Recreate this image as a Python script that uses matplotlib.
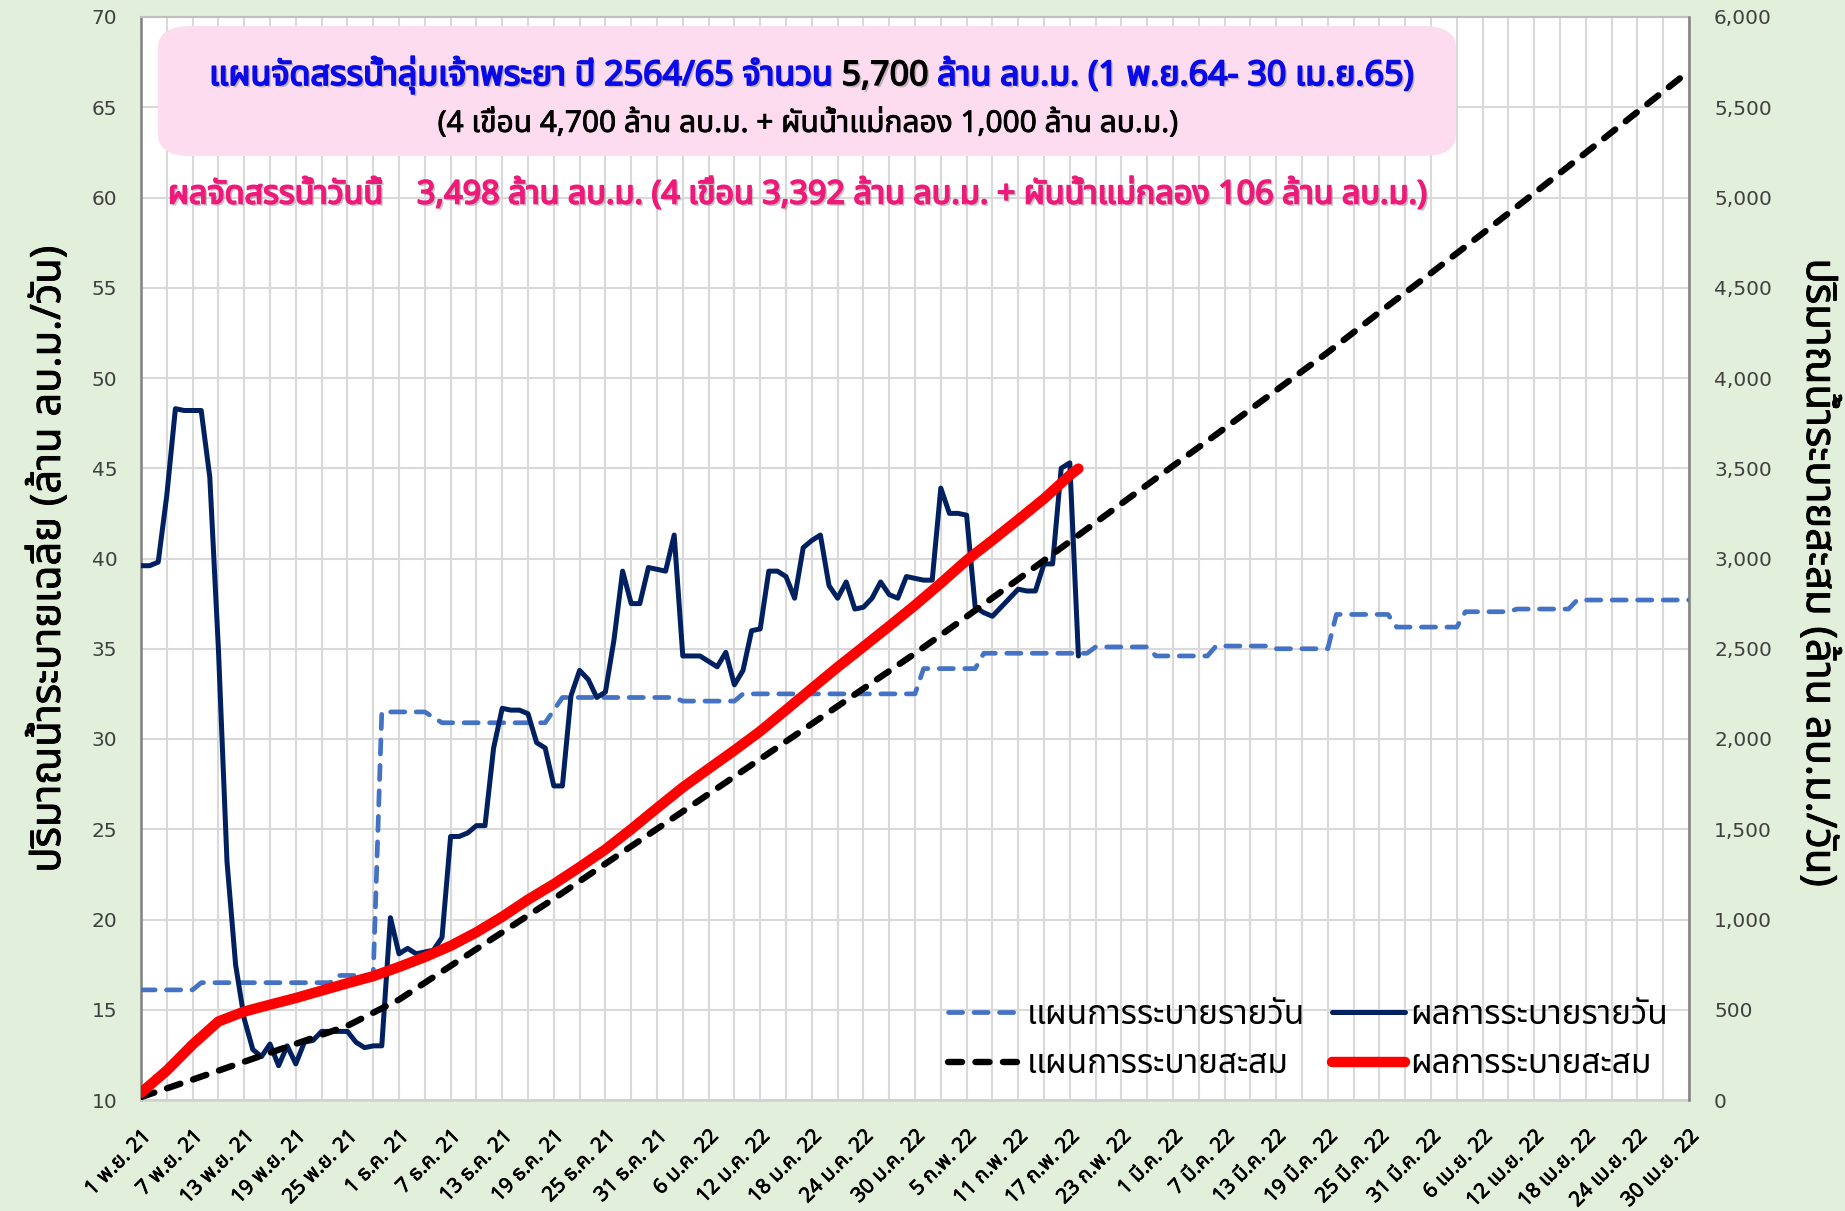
import numpy as np
import matplotlib
matplotlib.use("Agg")
import matplotlib.pyplot as plt
from matplotlib import font_manager
from matplotlib import patheffects as pe
from matplotlib.ft2font import FT2Font
from matplotlib.lines import Line2D
from matplotlib.patches import FancyBboxPatch
from matplotlib.offsetbox import TextArea, HPacker, AnnotationBbox
from matplotlib.ticker import FuncFormatter, FixedLocator


# ---------------------------------------------------------------- fonts
def pick_thai_family():
    preferred = ["Noto Sans Thai", "Noto Sans Thai UI", "Sarabun", "Kanit", "Prompt",
                 "Loma", "Waree", "Garuda", "Tlwg Typo", "Umpush", "Norasi", "Kinnari"]
    found = {}
    for entry in font_manager.fontManager.ttflist:
        try:
            cmap = FT2Font(entry.fname).get_charmap()
        except Exception:
            continue
        if 0x0E01 in cmap and 0x0E19 in cmap and 0x0E49 in cmap:
            found.setdefault(entry.name, entry.fname)
    for name in preferred:
        if name in found:
            return name
    return sorted(found)[0] if found else None


THAI = pick_thai_family()
FAMILY = [THAI, "DejaVu Sans"] if THAI else ["DejaVu Sans"]
plt.rcParams["font.family"] = FAMILY

# ---------------------------------------------------------------- data
# day index 0 = 1 Nov 2021 ... 180 = 30 Apr 2022
tick_days = list(range(0, 181, 6))
tick_labels = [
    "1 พ.ย. 21", "7 พ.ย. 21", "13 พ.ย. 21", "19 พ.ย. 21", "25 พ.ย. 21",
    "1 ธ.ค. 21", "7 ธ.ค. 21", "13 ธ.ค. 21", "19 ธ.ค. 21", "25 ธ.ค. 21", "31 ธ.ค. 21",
    "6 ม.ค. 22", "12 ม.ค. 22", "18 ม.ค. 22", "24 ม.ค. 22", "30 ม.ค. 22",
    "5 ก.พ. 22", "11 ก.พ. 22", "17 ก.พ. 22", "23 ก.พ. 22",
    "1 มี.ค. 22", "7 มี.ค. 22", "13 มี.ค. 22", "19 มี.ค. 22", "25 มี.ค. 22", "31 มี.ค. 22",
    "6 เม.ย. 22", "12 เม.ย. 22", "18 เม.ย. 22", "24 เม.ย. 22", "30 เม.ย. 22",
]

# planned daily release (million m3/day): level held from each start day
plan_daily_start = [0, 7, 23, 28, 34, 35, 48, 49, 63, 70, 91, 98,
                    111, 118, 125, 132, 139, 146, 154, 160, 167]
plan_daily_level = [16.1, 16.5, 16.9, 31.5, 31.2, 30.9, 31.6, 32.3, 32.1, 32.5, 33.9, 34.75,
                    35.1, 34.6, 35.15, 35.0, 36.9, 36.2, 37.05, 37.2, 37.7]

# actual daily release (million m3/day), 1 Nov 2021 - 18 Feb 2022
actual_daily = [
    39.6, 39.6, 39.8, 43.5, 48.3, 48.2, 48.2, 48.2, 44.5, 35.0,
    23.2, 17.5, 14.5, 12.8, 12.4, 13.1, 11.9, 13.0, 12.0, 13.2,
    13.3, 13.8, 13.8, 13.8, 13.8, 13.2, 12.9, 13.0, 13.0, 20.1,
    18.1, 18.4, 18.1, 18.2, 18.3, 19.0, 24.6, 24.6, 24.8, 25.2,
    25.2, 29.5, 31.7, 31.6, 31.6, 31.4, 29.8, 29.5, 27.4, 27.4,
    32.4, 33.8, 33.3, 32.3, 32.6, 35.5, 39.3, 37.5, 37.5, 39.5,
    39.4, 39.3, 41.3, 34.6, 34.6, 34.6, 34.3, 34.0, 34.8, 33.0,
    33.8, 36.0, 36.1, 39.3, 39.3, 39.0, 37.8, 40.6, 41.0, 41.3,
    38.5, 37.8, 38.7, 37.2, 37.3, 37.8, 38.7, 38.0, 37.8, 39.0,
    38.9, 38.8, 38.8, 43.9, 42.5, 42.5, 42.4, 37.3, 37.0, 36.8,
    37.3, 37.8, 38.3, 38.2, 38.2, 39.7, 39.7, 45.0, 45.3, 34.6,
]

# planned cumulative release (million m3)
plan_cum_days = list(range(0, 181, 6))
plan_cum = [16, 113, 212, 311, 411, 556, 743, 929, 1115, 1309, 1502, 1695, 1889, 2084,
            2279, 2474, 2678, 2885, 3094, 3304, 3513, 3721, 3932, 4142, 4364, 4581,
            4801, 5024, 5248, 5474, 5700]

# actual cumulative release (million m3)
actual_cum_days = list(range(0, 109, 3)) + [109]
actual_cum = [40, 163, 307, 435, 490, 528, 565, 606, 647, 686, 737, 792, 854, 929,
              1015, 1110, 1196, 1290, 1388, 1500, 1617, 1732, 1835, 1937, 2043, 2161,
              2280, 2398, 2511, 2625, 2741, 2863, 2990, 3101, 3215, 3331, 3461, 3498]

legend_labels = ["แผนการระบายรายวัน", "แผนการระบายสะสม", "ผลการระบายรายวัน", "ผลการระบายสะสม"]

# ---------------------------------------------------------------- styles
BG = "#E2EFDA"
GRID = "#D9D9D9"
C_PLAN_D = "#4472C4"
C_ACT_D = "#002060"
C_PLAN_C = "#000000"
C_ACT_C = "#FF0000"


def heavy(color, width=1.3, shadow=True):
    """Thicken glyphs with an outline of their own colour, plus a soft drop shadow."""
    fx = []
    if shadow:
        fx.append(pe.SimplePatchShadow(offset=(1.6, -1.6), shadow_rgbFace="#7F7F7F", alpha=0.45))
    fx += [pe.Stroke(linewidth=width, foreground=color), pe.Normal()]
    return fx


days_all = np.arange(0, 181)
plan_daily = np.array(plan_daily_level)[np.searchsorted(plan_daily_start, days_all, side="right") - 1]
actual_days = np.arange(len(actual_daily))

fig = plt.figure(figsize=(18.45, 12.11), dpi=100, facecolor=BG)
ax = fig.add_axes([141 / 1845, 1 - 1100 / 1211, 1548 / 1845, 1083 / 1211])
ax.set_facecolor("white")
ax2 = ax.twinx()

ax.set_xlim(0, 180)
ax.set_ylim(10, 70)
ax2.set_ylim(0, 6000)

# grid
ax.set_yticks(np.arange(10, 71, 5))
ax.xaxis.set_major_locator(FixedLocator(tick_days))
ax.xaxis.set_minor_locator(FixedLocator(list(range(0, 181, 3))))
ax.grid(which="both", axis="x", color=GRID, lw=1.5)
ax.grid(which="major", axis="y", color=GRID, lw=1.5)
ax.set_axisbelow(True)

# daily series (left axis)
ax.plot(days_all, plan_daily, color=C_PLAN_D, lw=3.4,
        dashes=(3.0, 2.4), dash_capstyle="round", zorder=3)
ax.plot(actual_days, actual_daily, color=C_ACT_D, lw=3.6,
        solid_joinstyle="round", solid_capstyle="round", zorder=4)

# cumulative series (right axis)
ax2.plot(plan_cum_days, plan_cum, color=C_PLAN_C, lw=4.6,
         dashes=(2.2, 2.1), dash_capstyle="round", zorder=3)
ax2.plot(actual_cum_days, actual_cum, color=C_ACT_C, lw=7.5,
         solid_joinstyle="round", solid_capstyle="round", zorder=4)

# ticks
ax.set_xticks(tick_days)
ax.set_xticklabels(tick_labels, rotation=45, ha="right", va="top",
                   rotation_mode="anchor", fontsize=14.8, color="#000000")
for t in ax.get_xticklabels():
    t.set_path_effects(heavy("#000000", 0.5, shadow=False))
ax.tick_params(axis="x", which="both", length=0, pad=19)
ax.tick_params(axis="y", length=0, pad=17, labelsize=14.5, labelcolor="#404040")
for t in ax.get_yticklabels():
    t.set_fontfamily("DejaVu Sans")
ax2.set_yticks(np.arange(0, 6001, 500))
ax2.yaxis.set_major_formatter(FuncFormatter(lambda v, p: f"{int(v):,}"))
ax2.tick_params(axis="y", length=0, pad=18, labelsize=14.5, labelcolor="#404040")
for t in ax2.get_yticklabels():
    t.set_fontfamily("DejaVu Sans")

# frame
for side in ["top", "bottom", "right", "left"]:
    ax2.spines[side].set_visible(False)
ax.spines["right"].set_visible(False)
ax.spines["left"].set_color("#808080")
ax.spines["left"].set_linewidth(1.8)
ax.spines["top"].set_color("#BFBFBF")
ax.spines["top"].set_linewidth(1.5)
ax.spines["bottom"].set_color("#D0D0D0")
ax.spines["bottom"].set_linewidth(1.8)
ax2.spines["right"].set_visible(True)
ax2.spines["right"].set_color("#808080")
ax2.spines["right"].set_linewidth(1.8)

# axis titles
fig.text(49 / 1845, 1 - 559 / 1211, "ปริมาณน้ำระบายเฉลี่ย (ล้าน ลบ.ม./วัน)",
         rotation=90, ha="center", va="center", fontsize=30, color="#000000",
         path_effects=heavy("#000000", 0.6, shadow=False))
fig.text(1818 / 1845, 1 - 573 / 1211, "ปริมาณน้ำระบายสะสม (ล้าน ลบ.ม./วัน)",
         rotation=270, ha="center", va="center", fontsize=30, color="#000000",
         path_effects=heavy("#000000", 0.6, shadow=False))

# legend
handles = [
    Line2D([], [], color=C_PLAN_D, lw=3.4, dashes=(3.0, 2.4), dash_capstyle="round"),
    Line2D([], [], color=C_PLAN_C, lw=4.6, dashes=(2.2, 2.1), dash_capstyle="round"),
    Line2D([], [], color=C_ACT_D, lw=3.6, solid_capstyle="round"),
    Line2D([], [], color=C_ACT_C, lw=7.5, solid_capstyle="round"),
]
ax2.legend(handles, legend_labels, ncol=2, frameon=False, fontsize=24,
           loc="center", bbox_to_anchor=(1308 / 1845, 1 - 1040 / 1211),
           bbox_transform=fig.transFigure, handlelength=2.2, handletextpad=0.15,
           columnspacing=0.8, labelspacing=0.5)

# header box
box = FancyBboxPatch((158 / 1845, 1 - 156 / 1211), (1456 - 158) / 1845, 130 / 1211,
                     boxstyle="round,pad=0,rounding_size=0.018", transform=fig.transFigure,
                     facecolor="#FCDCEE", edgecolor="none", zorder=5)
fig.patches.append(box)

blue = "#0A0AE6"
title_parts = HPacker(children=[
    TextArea("แผนจัดสรรน้ำลุ่มเจ้าพระยา ปี 2564/65 จำนวน ",
             textprops=dict(color=blue, fontsize=24.5, family=FAMILY,
                            path_effects=heavy(blue))),
    TextArea("5,700", textprops=dict(color="black", fontsize=24.5, family=FAMILY,
                                     path_effects=heavy("black", 1.0))),
    TextArea(" ล้าน ลบ.ม. (1 พ.ย.64- 30 เม.ย.65)",
             textprops=dict(color=blue, fontsize=24.5, family=FAMILY,
                            path_effects=heavy(blue))),
], sep=0, pad=0, align="baseline")
ab = AnnotationBbox(title_parts, (812 / 1845, 1 - 75 / 1211), xycoords="figure fraction",
                    box_alignment=(0.5, 0.5), frameon=False, zorder=6)
fig.add_artist(ab)

fig.text(808 / 1845, 1 - 124 / 1211,
         "(4 เขื่อน 4,700 ล้าน ลบ.ม. + ผันน้ำแม่กลอง 1,000 ล้าน ลบ.ม.)",
         ha="center", va="center", fontsize=21.5, color="black", zorder=6,
         path_effects=heavy("black", 0.6, shadow=False))

pink = "#EE1A7A"
fig.text(168 / 1845, 1 - 195 / 1211,
         "ผลจัดสรรน้ำวันนี้    3,498 ล้าน ลบ.ม. (4 เขื่อน 3,392 ล้าน ลบ.ม. + ผันน้ำแม่กลอง 106 ล้าน ลบ.ม.)",
         ha="left", va="center", fontsize=23.3, color=pink, zorder=6,
         path_effects=heavy(pink))

fig.savefig("out.png", dpi=100, facecolor=BG)
